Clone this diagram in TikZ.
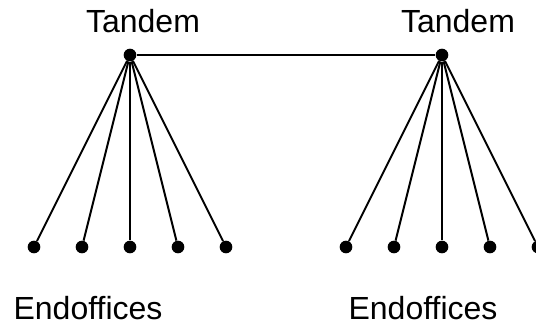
\documentclass[tikz,border=0pt]{standalone}
\usepackage{fontspec}
\setmainfont{Liberation Sans}
\usepackage{tikz}

\tikzset{
  office/.style={circle,fill=black,inner sep=0pt,minimum size=9.5pt},
  trunk/.style={line width=1.5pt},
  label/.style={anchor=base,font=\fontsize{24}{28}\selectfont}
}

\begin{document}
\begin{tikzpicture}[x=0.75pt,y=0.75pt,yscale=-1,xscale=1]
\useasboundingbox (0,0) rectangle (536,327);

%Tandem switches
\node[office] (tl) at (130,55) {};
\node[office] (tr) at (442,55) {};
\draw[trunk] (tl) -- (tr);

%Endoffices left
\foreach \x [count=\i] in {34,82,130,178,226}{
  \node[office] (l\i) at (\x,247) {};
  \draw[trunk] (tl) -- (l\i);
}
%Endoffices right
\foreach \x [count=\i] in {346,394,442,490,538}{
  \node[office] (r\i) at (\x,247) {};
  \draw[trunk] (tr) -- (r\i);
}

%Labels
\node[label] (tltext) at (143,33) {Tandem};
\node[label] (trtext) at (458,33) {Tandem};
\node[label] (bltext) at (88,320) {Endoffices};
\node[label] (brtext) at (423,320) {Endoffices};

\end{tikzpicture}
\end{document}
